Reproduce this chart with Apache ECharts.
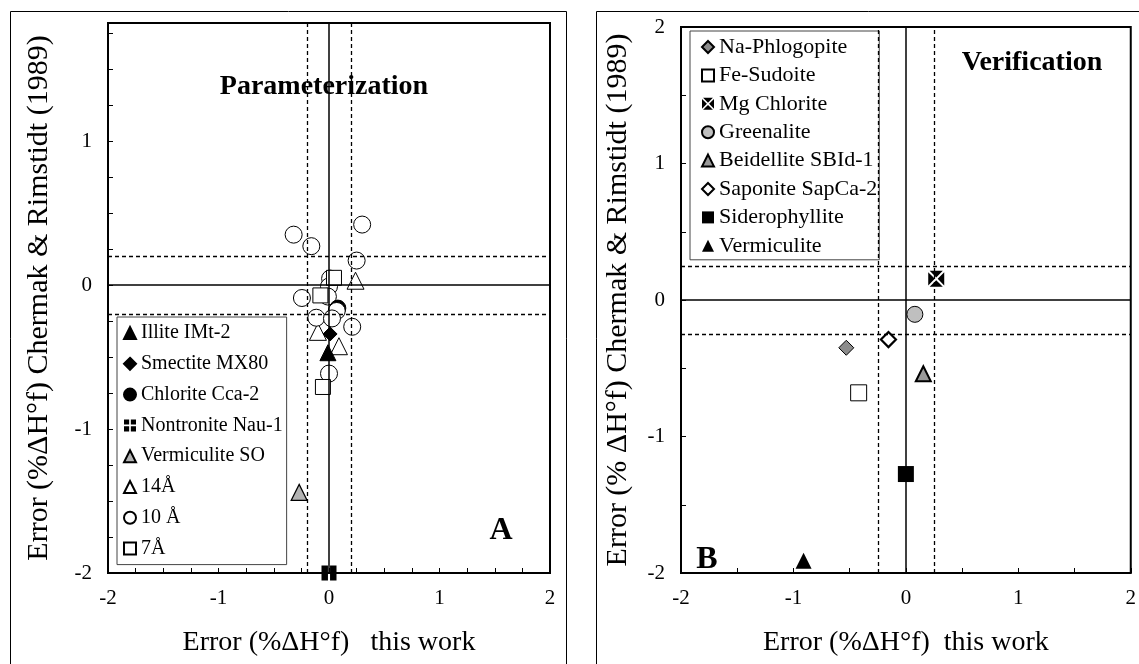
<!DOCTYPE html>
<html>
<head>
<meta charset="utf-8">
<script src="https://cdn.jsdelivr.net/npm/echarts@6/dist/echarts.min.js"></script>
<style>
  html, body { margin: 0; padding: 0; background: #fff; }
  #chart { width: 1139px; height: 664px; }
</style>
</head>
<body>
<div id="chart"></div>
<script>
// ---- Panel A: Parameterization (x: error this work, y: error Chermak & Rimstidt) ----
const illiteIMt2     = [[-0.01, -0.47]];
const smectiteMX80   = [[0.01, -0.34]];
const chloriteCca2   = [[0.08, -0.16]];
const nontroniteNau1 = [[0.0, -2.0]];
const vermiculiteSO  = [[-0.27, -1.44]];
const a14            = [[0.24, 0.03], [-0.10, -0.325], [0.09, -0.425]];
const a10            = [[0.30, 0.42], [-0.32, 0.35], [-0.16, 0.27], [0.25, 0.17],
                        [0.01, 0.045], [0.0, -0.01], [-0.245, -0.09], [-0.01, -0.08],
                        [0.07, -0.18], [-0.115, -0.227], [0.027, -0.232], [0.21, -0.29],
                        [0.0, -0.615]];
const a7             = [[0.045, 0.05], [-0.078, -0.072], [-0.055, -0.708]];

// ---- Panel B: Verification ----
const naPhlogopite   = [[-0.53, -0.35]];
const feSudoite      = [[-0.42, -0.68]];
const mgChlorite     = [[0.27, 0.155]];
const greenalite     = [[0.08, -0.105]];
const beidellite     = [[0.155, -0.54]];
const saponite       = [[-0.155, -0.29]];
const siderophyllite = [[0.0, -1.275]];
const vermiculite    = [[-0.91, -1.91]];

// reference bands
const bandA = 0.2;
const bandB = 0.25;
const xTickLabels = [-2, -1, 0, 1, 2];

const FONT = 'Liberation Serif';

// black square split by a white "+"
const crossSquare = 'path://M0,0L4.3,0L4.3,4.3L0,4.3Z M5.7,0L10,0L10,4.3L5.7,4.3Z M0,5.7L4.3,5.7L4.3,10L0,10Z M5.7,5.7L10,5.7L10,10L5.7,10Z';
// black square split by a white "X"
const xSquare = 'path://M0.9,0L9.1,0L5,4.1Z M10,0.9L10,9.1L5.9,5Z M9.1,10L0.9,10L5,5.9Z M0,9.1L0,0.9L4.1,5Z';

function sc(name, data, gi, symbol, size, fill, bw) {
  return {
    name, type: 'scatter', data,
    xAxisIndex: gi, yAxisIndex: gi,
    symbol, symbolSize: size, clip: false, z: 3,
    itemStyle: { color: fill, borderColor: '#000', borderWidth: bw == null ? 1 : bw, opacity: 1 },
    emphasis: { disabled: true }
  };
}

function refLines(gi, band) {
  const solid = { type: 'solid', color: '#000', width: 1.5 };
  const dash = { type: [4, 3], color: '#000', width: 1.3 };
  return {
    type: 'scatter', data: [], xAxisIndex: gi, yAxisIndex: gi, z: 1, silent: true,
    markLine: {
      silent: true, symbol: 'none', label: { show: false }, animation: false,
      data: [
        { xAxis: 0, lineStyle: solid }, { yAxis: 0, lineStyle: solid },
        { xAxis: -band, lineStyle: dash }, { xAxis: band, lineStyle: dash },
        { yAxis: -band, lineStyle: dash }, { yAxis: band, lineStyle: dash }
      ]
    }
  };
}

function intLabel(v) {
  return xTickLabels.indexOf(Math.round(v * 1000) / 1000) >= 0 ? String(Math.round(v)) : '';
}

function xAx(gi, interval, name) {
  return {
    type: 'value', gridIndex: gi, min: -2, max: 2, interval,
    name, nameLocation: 'middle', nameGap: 56,
    nameTextStyle: { fontFamily: FONT, fontSize: 28, color: '#000' },
    axisLine: { show: false, onZero: false },
    axisTick: { show: true, inside: true, length: 5, lineStyle: { color: '#000', width: 1 } },
    axisLabel: { formatter: intLabel, fontFamily: FONT, fontSize: 21, color: '#000', margin: 15 },
    splitLine: { show: false }
  };
}

function yAx(gi, max, interval, name, gap) {
  return {
    type: 'value', gridIndex: gi, min: -2, max, interval,
    name, nameLocation: 'middle', nameGap: gap, nameRotate: 90,
    nameTextStyle: { fontFamily: FONT, fontSize: 30, color: '#000' },
    axisLine: { show: false, onZero: false },
    axisTick: { show: true, inside: true, length: 5, lineStyle: { color: '#000', width: 1 } },
    axisLabel: { formatter: intLabel, fontFamily: FONT, fontSize: 21, color: '#000', margin: 16,
                 showMaxLabel: true },
    splitLine: { show: false }
  };
}

const namesA = ['Illite IMt-2', 'Smectite MX80', 'Chlorite Cca-2', 'Nontronite Nau-1',
                'Vermiculite SO', '14Å', '10 Å', '7Å'];
const namesB = ['Na-Phlogopite', 'Fe-Sudoite', 'Mg Chlorite', 'Greenalite',
                'Beidellite SBId-1', 'Saponite SapCa-2', 'Siderophyllite', 'Vermiculite'];

const chart = echarts.init(document.getElementById('chart'), null, { renderer: 'canvas' });

chart.setOption({
  animation: false,
  backgroundColor: '#fff',
  textStyle: { fontFamily: FONT },
  grid: [
    { left: 108, top: 23, width: 442, height: 550, show: true, borderColor: '#000', borderWidth: 2, backgroundColor: 'transparent' },
    { left: 681, top: 27, width: 454, height: 546, show: true, borderColor: '#000', borderWidth: 2, backgroundColor: 'transparent' }
  ],
  xAxis: [
    xAx(0, 0.25, 'Error (%ΔH°f)   this work'),
    xAx(1, 0.5, 'Error (%ΔH°f)  this work')
  ],
  yAxis: [
    yAx(0, 1.82, 0.25, 'Error (%ΔH°f) Chermak & Rimstidt (1989)', 54),
    yAx(1, 2, 0.5, 'Error (% ΔH°f) Chermak & Rimstidt (1989)', 48)
  ],
  legend: [
    {
      data: namesA, orient: 'vertical', left: 117, top: 317,
      itemWidth: 12, itemHeight: 12, itemGap: 10.8,
      padding: [6, 4, 6, 6],
      borderColor: '#444', borderWidth: 1, backgroundColor: '#fff',
      textStyle: { fontFamily: FONT, fontSize: 20, color: '#000', lineHeight: 20 },
      selectedMode: false, inactiveColor: '#000'
    },
    {
      data: namesB, orient: 'vertical', left: 690, top: 31,
      itemWidth: 12, itemHeight: 12, itemGap: 6.4,
      padding: [5, 2, 3, 11],
      borderColor: '#444', borderWidth: 1, backgroundColor: '#fff',
      textStyle: { fontFamily: FONT, fontSize: 22, color: '#000', lineHeight: 20 },
      selectedMode: false
    }
  ],
  graphic: [
    { type: 'rect', shape: { x: 10.5, y: 11.5, width: 556, height: 700 }, style: { fill: 'none', stroke: '#000', lineWidth: 1 }, z: 0, silent: true },
    { type: 'rect', shape: { x: 596.5, y: 11.5, width: 600, height: 700 }, style: { fill: 'none', stroke: '#000', lineWidth: 1 }, z: 0, silent: true },
    { type: 'text', x: 324, y: 87, style: { text: 'Parameterization', font: 'bold 28px "Liberation Serif"', fill: '#000', align: 'center', verticalAlign: 'middle' }, z: 10 },
    { type: 'text', x: 1032, y: 63, style: { text: 'Verification', font: 'bold 28px "Liberation Serif"', fill: '#000', align: 'center', verticalAlign: 'middle' }, z: 10 },
    { type: 'text', x: 501, y: 531, style: { text: 'A', font: 'bold 32px "Liberation Serif"', fill: '#000', align: 'center', verticalAlign: 'middle' }, z: 10 },
    { type: 'text', x: 707, y: 560, style: { text: 'B', font: 'bold 32px "Liberation Serif"', fill: '#000', align: 'center', verticalAlign: 'middle' }, z: 10 }
  ],
  series: [
    refLines(0, bandA),
    refLines(1, bandB),
    // Panel A
    sc('Vermiculite SO', vermiculiteSO, 0, 'triangle', 16, '#b3b3b3', 1.2),
    sc('14Å', a14, 0, 'triangle', 17, '#fff', 1),
    sc('10 Å', a10.slice(0, 8), 0, 'circle', 17, '#fff', 1),
    sc('Chlorite Cca-2', chloriteCca2, 0, 'circle', 16, '#000', 1),
    sc('10 Å', a10.slice(8), 0, 'circle', 17, '#fff', 1),
    sc('7Å', a7, 0, 'rect', 15, '#fff', 1),
    sc('Smectite MX80', smectiteMX80, 0, 'diamond', 14, '#000', 1),
    sc('Illite IMt-2', illiteIMt2, 0, 'triangle', 16, '#000', 1),
    sc('Nontronite Nau-1', nontroniteNau1, 0, crossSquare, 15, '#000', 0),
    // Panel B
    sc('Na-Phlogopite', naPhlogopite, 1, 'diamond', 15, '#8c8c8c', 1),
    sc('Fe-Sudoite', feSudoite, 1, 'rect', 16, '#fff', 1),
    sc('Mg Chlorite', mgChlorite, 1, xSquare, 16, '#000', 0),
    sc('Greenalite', greenalite, 1, 'circle', 16, '#bfbfbf', 1),
    sc('Beidellite SBId-1', beidellite, 1, 'triangle', 15, '#9a9a9a', 2),
    sc('Saponite SapCa-2', saponite, 1, 'diamond', 15, '#fff', 2.2),
    sc('Siderophyllite', siderophyllite, 1, 'rect', 16, '#000', 0),
    sc('Vermiculite', vermiculite, 1, 'triangle', 16, '#000', 0)
  ]
});
</script>
</body>
</html>
